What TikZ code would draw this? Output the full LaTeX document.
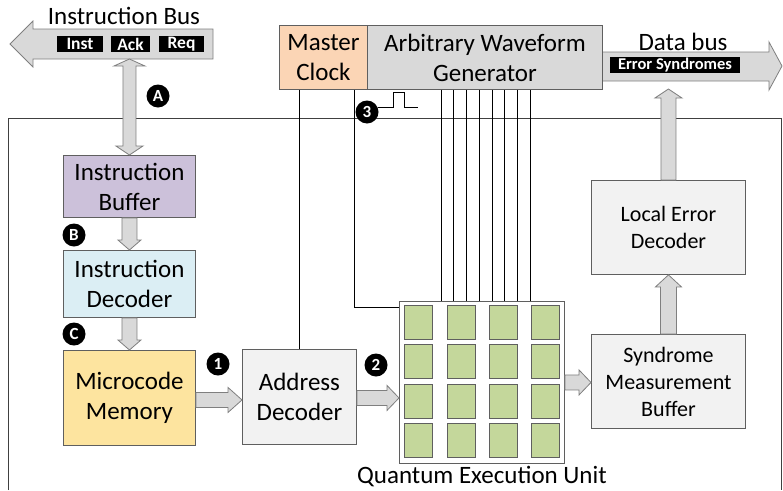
\documentclass[tikz,border=0pt]{standalone}
\usepackage{fontspec}
\setmainfont{Carlito}
\usetikzlibrary{calc}
\definecolor{boxline}{HTML}{5F5F5F}
\definecolor{arrline}{HTML}{7F7F7F}
\definecolor{arrfill}{HTML}{D9D9D9}
\definecolor{lgray}{HTML}{F2F2F2}
\definecolor{ibfill}{HTML}{CCC1DA}
\definecolor{idfill}{HTML}{DBEEF4}
\definecolor{mmfill}{HTML}{FDE49F}
\definecolor{mcfill}{HTML}{FBD5B5}
\definecolor{awgfill}{HTML}{D9D9D9}
\definecolor{qgreen}{HTML}{C4D79B}
\newcommand\VArrow[5]{\path[barrow] let \p1=(#1), \p2=(#2), \n1={ifthenelse(\y2>\y1,1,-1)} in
  ({\x1-#3pt},{\y1}) -- ({\x1-#3pt},{\y2-\n1*#5pt}) -- ({\x1-#4pt},{\y2-\n1*#5pt}) -- ({\x1},{\y2})
  -- ({\x1+#4pt},{\y2-\n1*#5pt}) -- ({\x1+#3pt},{\y2-\n1*#5pt}) -- ({\x1+#3pt},{\y1}) -- cycle;}
\newcommand\HArrow[5]{\path[barrow] let \p1=(#1), \p2=(#2), \n1={ifthenelse(\x2>\x1,1,-1)} in
  ({\x1},{\y1-#3pt}) -- ({\x2-\n1*#5pt},{\y1-#3pt}) -- ({\x2-\n1*#5pt},{\y1-#4pt}) -- ({\x2},{\y1})
  -- ({\x2-\n1*#5pt},{\y1+#4pt}) -- ({\x2-\n1*#5pt},{\y1+#3pt}) -- ({\x1},{\y1+#3pt}) -- cycle;}
\begin{document}
\begin{tikzpicture}[x=1pt,y=-1pt,
  box/.style={draw=boxline, line width=0.9pt, inner sep=0pt, align=center,
    font=\fontsize{25}{30}\selectfont, anchor=north west},
  sbox/.style={box, font=\fontsize{22}{27}\selectfont},
  barrow/.style={draw=arrline, fill=arrfill, line width=0.8pt, line join=miter},
  badge/.style={circle, fill=black, text=white, inner sep=0pt, minimum size=23pt,
    font=\bfseries\fontsize{17}{17}\selectfont},
  tag/.style={fill=black, text=white, inner sep=0pt, minimum height=16pt,
    font=\bfseries\fontsize{17.5}{17.5}\selectfont},
  qubit/.style={draw=boxline, fill=qgreen, line width=0.8pt, minimum width=28pt,
    minimum height=34pt, inner sep=0pt, anchor=north west},
  wire/.style={draw=black, line width=0.6pt},
  frame/.style={draw=black!75, line width=0.9pt},
  title/.style={font=\fontsize{25}{30}\selectfont, inner sep=0pt}]
\useasboundingbox (0,0) rectangle (783,490);

% outer frame
\draw[frame] (8,490) -- (8,118) -- (781,118) -- (781,490);

% buses
\path[barrow] (213,29) -- (33,29) -- (33,21) -- (10,44) -- (33,67) -- (33,59) -- (213,59) -- cycle;
\path[barrow] (602,52) -- (769,52) -- (769,42) -- (782,66) -- (769,90) -- (769,81) -- (602,81) -- cycle;
\node[title] (ibus) at (124,16) {Instruction Bus};
\node[title] (dbus) at (683,42) {Data bus};
\node[tag, minimum width=46pt] (tinst) at (80,44) {Inst};
\node[tag, minimum width=39pt] (tack) at (130.5,44) {Ack};
\node[tag, minimum width=45pt] (treq) at (181.5,44) {Req};
\node[tag, minimum width=130pt, font=\bfseries\fontsize{16.5}{16.5}\selectfont] (terr) at (675,65) {Error Syndromes};

% blocks
\node[box, fill=ibfill, minimum width=132pt, minimum height=62pt] (ib) at (63,155) {Instruction\\Buffer};
\node[box, fill=idfill, minimum width=132pt, minimum height=67pt] (id) at (63,250) {Instruction\\Decoder};
\node[box, fill=mmfill, minimum width=132pt, minimum height=95pt] (mm) at (63,350) {Microcode\\Memory};
\node[box, fill=lgray, minimum width=114pt, minimum height=95pt] (ad) at (242,349) {Address\\Decoder};
\node[box, fill=white, minimum width=165pt, minimum height=162pt] (qeu) at (399,301) {};
\node[sbox, fill=lgray, minimum width=154pt, minimum height=94pt] (smb) at (591,334) {Syndrome\\Measurement\\Buffer};
\node[sbox, fill=lgray, minimum width=154pt, minimum height=94pt] (led) at (591,180) {Local Error\\Decoder};
\node[box, fill=mcfill, minimum width=88pt, minimum height=64pt] (mc) at (279,25) {Master\\Clock};
\node[box, fill=awgfill, minimum width=235pt, minimum height=64pt] (awg) at (367,25) {Arbitrary Waveform\\Generator};
\node[title, anchor=base] (qlabel) at ($(qeu.south)+(0,20)$) {Quantum Execution Unit};

% qubits
\foreach \i/\dx in {1/5,2/48,3/90,4/132}
  \foreach \j/\dy in {1/4,2/43,3/83,4/122}
    \node[qubit] (q\i\j) at ($(qeu.north west)+(\dx,\dy)$) {};

% wires
\draw[wire] (ad.north) -- (ad.north |- mc.south);
\draw[wire] ($(mc.south east)+(-14,0)$) |- ($(qeu.north west)+(0,6)$);
\foreach \x in {441,453.7,466.4,479.1,491.8,504.5,517.2,529.9}
  \draw[wire] (awg.south -| \x,0) -- (qeu.north -| \x,0);

% block arrows
\coordinate (ibbot) at (ib.north |- 0,59);
\path[barrow] let \p1=(ibbot), \p2=(ib.north) in
  ({\x1},{\y1}) -- ({\x1+15.5pt},{\y1-7pt}) -- ({\x1+6.5pt},{\y1-7pt}) -- ({\x1+6.5pt},{\y2+9pt})
  -- ({\x1+13.5pt},{\y2+9pt}) -- ({\x2},{\y2}) -- ({\x1-13.5pt},{\y2+9pt}) -- ({\x1-6.5pt},{\y2+9pt})
  -- ({\x1-6.5pt},{\y1-7pt}) -- ({\x1-15.5pt},{\y1-7pt}) -- cycle;
\VArrow{ib.south}{id.north}{7.5}{11.5}{10}
\VArrow{id.south}{mm.north}{7.5}{11.5}{10}
\HArrow{$(mm.east)+(0,2)$}{ad.west}{7.5}{12.5}{14}
\HArrow{$(ad.east)+(0,1)$}{qeu.west}{7.5}{12.5}{12}
\HArrow{qeu.east}{smb.west}{7.5}{12.5}{12}
\VArrow{smb.north}{led.south}{8}{13}{12}
\coordinate (dbin) at (led.north |- 0,89);
\VArrow{led.north}{dbin}{7.5}{13.5}{9}

% badges
\node[badge] (bA) at (158,96) {A};
\node[badge] (bB) at (74,235) {B};
\node[badge] (bC) at (74,334) {C};
\node[badge] (b1) at (218,364) {1};
\node[badge] (b2) at (376,365) {2};
\node[badge] (b3) at (367,112) {3};
\draw[wire] (b3.25) -- ++(16,0) -- ++(0,-15) -- ++(11,0) -- ++(0,15) -- ++(13,0);
\end{tikzpicture}
\end{document}
